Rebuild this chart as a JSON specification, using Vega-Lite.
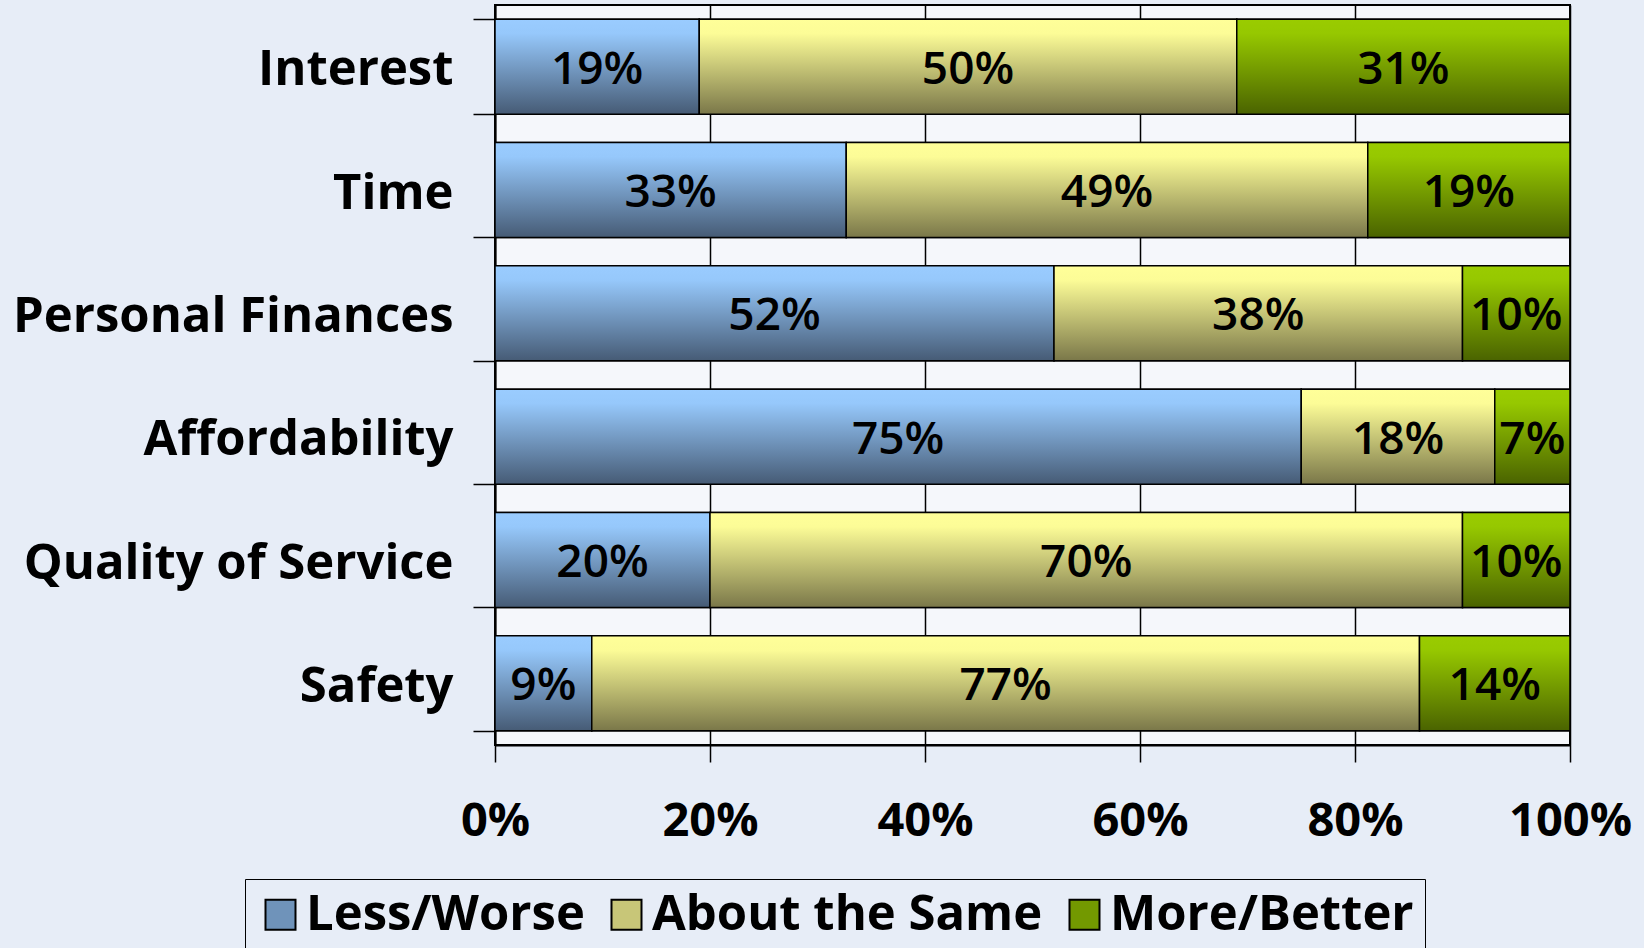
{
  "$schema": "https://vega.github.io/schema/vega-lite/v6.json",
  "width": 1075,
  "height": 740,
  "autosize": {"type": "none"},
  "padding": {"left": 495, "top": 5, "right": 74, "bottom": 203},
  "background": "#E7EDF7",
  "config": {
    "view": {"fill": "#F5F7FB", "stroke": "#000000", "strokeWidth": 2},
    "font": "Open Sans"
  },
  "data": {
    "values": [
      {"category": "Interest", "response": "Less/Worse", "ord": 1, "value": 0.19},
      {"category": "Interest", "response": "About the Same", "ord": 2, "value": 0.50},
      {"category": "Interest", "response": "More/Better", "ord": 3, "value": 0.31},
      {"category": "Time", "response": "Less/Worse", "ord": 1, "value": 0.33},
      {"category": "Time", "response": "About the Same", "ord": 2, "value": 0.49},
      {"category": "Time", "response": "More/Better", "ord": 3, "value": 0.19},
      {"category": "Personal Finances", "response": "Less/Worse", "ord": 1, "value": 0.52},
      {"category": "Personal Finances", "response": "About the Same", "ord": 2, "value": 0.38},
      {"category": "Personal Finances", "response": "More/Better", "ord": 3, "value": 0.10},
      {"category": "Affordability", "response": "Less/Worse", "ord": 1, "value": 0.75},
      {"category": "Affordability", "response": "About the Same", "ord": 2, "value": 0.18},
      {"category": "Affordability", "response": "More/Better", "ord": 3, "value": 0.07},
      {"category": "Quality of Service", "response": "Less/Worse", "ord": 1, "value": 0.20},
      {"category": "Quality of Service", "response": "About the Same", "ord": 2, "value": 0.70},
      {"category": "Quality of Service", "response": "More/Better", "ord": 3, "value": 0.10},
      {"category": "Safety", "response": "Less/Worse", "ord": 1, "value": 0.09},
      {"category": "Safety", "response": "About the Same", "ord": 2, "value": 0.77},
      {"category": "Safety", "response": "More/Better", "ord": 3, "value": 0.14}
    ]
  },
  "transform": [
    {"stack": "value", "groupby": ["category"], "sort": [{"field": "ord", "order": "ascending"}], "offset": "normalize", "as": ["x0", "x1"]}
  ],
  "encoding": {
    "y": {
      "field": "category",
      "type": "nominal",
      "sort": ["Interest", "Time", "Personal Finances", "Affordability", "Quality of Service", "Safety"],
      "scale": {"paddingInner": 0.23, "paddingOuter": 0.115},
      "axis": {
        "title": null,
        "domainColor": "#000000",
        "domainWidth": 2,
        "tickColor": "#000000",
        "tickWidth": 1.5,
        "tickSize": 22,
        "tickBand": "extent",
        "labelFont": "Open Sans",
        "labelFontSize": 49,
        "labelFontWeight": "bold",
        "labelColor": "#000000",
        "labelPadding": 20,
        "labelOffset": 3,
        "labelLimit": 700,
        "grid": false
      }
    }
  },
  "layer": [
    {
      "mark": {"type": "bar", "stroke": "#000000", "strokeWidth": 1.5},
      "encoding": {
        "x": {
          "field": "x0",
          "type": "quantitative",
          "scale": {"domain": [0, 1], "nice": false},
          "axis": {
            "title": null,
            "values": [0, 0.2, 0.4, 0.6, 0.8, 1],
            "format": ".0%",
            "grid": true,
            "gridColor": "#000000",
            "gridWidth": 1.5,
            "gridOpacity": 1,
            "domainColor": "#000000",
            "domainWidth": 2,
            "tickColor": "#000000",
            "tickWidth": 1.5,
            "tickSize": 17,
            "labelFont": "Open Sans",
            "labelFontSize": 47,
            "labelFontWeight": "bold",
            "labelColor": "#000000",
            "labelPadding": 36,
            "labelFlush": false,
            "labelOverlap": false
          }
        },
        "x2": {"field": "x1"},
        "color": {
          "field": "response",
          "type": "nominal",
          "sort": ["Less/Worse", "About the Same", "More/Better"],
          "scale": {
            "domain": ["Less/Worse", "About the Same", "More/Better"],
            "range": ["#6F93BA", "#C8C678", "#739900"]
          },
          "legend": {
            "title": null,
            "orient": "none",
            "legendX": -250,
            "legendY": 874,
            "direction": "horizontal",
            "symbolType": "square",
            "symbolSize": 900,
            "symbolStrokeColor": "#000000",
            "symbolStrokeWidth": 2,
            "symbolOpacity": 1,
            "labelFont": "Open Sans",
            "labelFontSize": 49,
            "labelFontWeight": "bold",
            "labelColor": "#000000",
            "labelOffset": 1,
            "labelLimit": 600,
            "columnPadding": 17,
            "padding": 11,
            "strokeColor": "#000000",
            "encode": {
              "symbols": {
                "update": {
                  "stroke": {"value": "#000000"},
                  "strokeWidth": {"value": 2},
                  "fill": {"value": {"expr": "datum.value === 'Less/Worse' ? {gradient: 'linear', x1: 0, y1: 0, x2: 0, y2: 1, stops: [{offset: 0, color: '#9ACCFF'}, {offset: 1, color: '#465B75'}]} : datum.value === 'About the Same' ? {gradient: 'linear', x1: 0, y1: 0, x2: 0, y2: 1, stops: [{offset: 0, color: '#FFFF99'}, {offset: 1, color: '#7A7749'}]} : {gradient: 'linear', x1: 0, y1: 0, x2: 0, y2: 1, stops: [{offset: 0, color: '#9ACC00'}, {offset: 1, color: '#4A6300'}]}"}}
                }
              }
            }
          }
        }
      }
    },
    {
      "transform": [{"filter": {"field": "response", "equal": "Less/Worse"}}],
      "mark": {"type": "bar", "stroke": "#000000", "strokeWidth": 1.5, "color": {"gradient": "linear", "x1": 0, "y1": 0, "x2": 0, "y2": 1, "stops": [{"offset": 0, "color": "#9ACCFF"}, {"offset": 0.15, "color": "#96C8FB"}, {"offset": 1, "color": "#465B75"}]}},
      "encoding": {"x": {"field": "x0", "type": "quantitative"}, "x2": {"field": "x1"}}
    },
    {
      "transform": [{"filter": {"field": "response", "equal": "About the Same"}}],
      "mark": {"type": "bar", "stroke": "#000000", "strokeWidth": 1.5, "color": {"gradient": "linear", "x1": 0, "y1": 0, "x2": 0, "y2": 1, "stops": [{"offset": 0, "color": "#FFFF99"}, {"offset": 0.15, "color": "#FCFC97"}, {"offset": 1, "color": "#7A7749"}]}},
      "encoding": {"x": {"field": "x0", "type": "quantitative"}, "x2": {"field": "x1"}}
    },
    {
      "transform": [{"filter": {"field": "response", "equal": "More/Better"}}],
      "mark": {"type": "bar", "stroke": "#000000", "strokeWidth": 1.5, "color": {"gradient": "linear", "x1": 0, "y1": 0, "x2": 0, "y2": 1, "stops": [{"offset": 0, "color": "#9ACC00"}, {"offset": 0.15, "color": "#96C800"}, {"offset": 1, "color": "#4A6300"}]}},
      "encoding": {"x": {"field": "x0", "type": "quantitative"}, "x2": {"field": "x1"}}
    },
    {
      "transform": [
        {"fold": ["x0", "x1"], "as": ["k", "v"]},
        {"aggregate": [{"op": "mean", "field": "v", "as": "mid"}], "groupby": ["category", "response", "value"]}
      ],
      "mark": {"type": "text", "font": "Open Sans", "fontSize": 46, "fontWeight": 600, "color": "#000000", "baseline": "middle", "align": "center", "dy": 3},
      "encoding": {
        "x": {"field": "mid", "type": "quantitative"},
        "text": {"field": "value", "type": "quantitative", "format": ".0%"}
      }
    }
  ]
}
